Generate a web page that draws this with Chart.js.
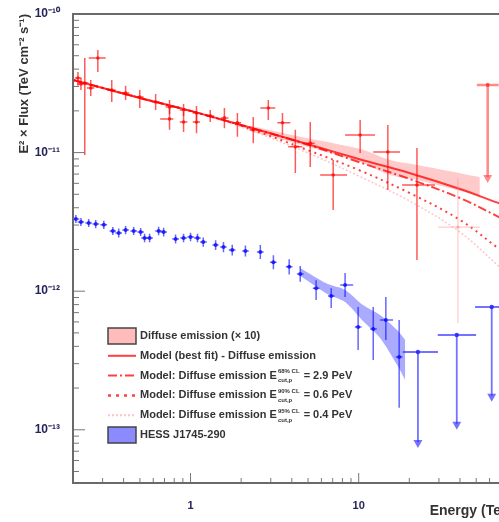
<!DOCTYPE html>
<html>
<head>
<meta charset="utf-8">
<script src="https://cdn.jsdelivr.net/npm/chart.js@4/dist/chart.umd.min.js"></script>
<style>
html, body { margin: 0; padding: 0; background: #fff; overflow: hidden; }
#wrap { width: 520px; height: 522px; }
</style>
</head>
<body>
<div id="wrap"><canvas id="spectrum" width="520" height="522"></canvas></div>
<script>
// Axis ticks
const xTickValues = [1, 10];
const xTickLabels = ["1", "10"];
const yTickValues = [1e-13, 1e-12, 1e-11, 1e-10];
const yTickLabels = ["10\u207B\u00B9\u00B3", "10\u207B\u00B9\u00B2", "10\u207B\u00B9\u00B9", "10\u207B\u00B9\u2070"];

// Diffuse emission (x 10) points, TeV / TeV cm^-2 s^-1
const redE   = [0.214, 0.223, 0.235, 0.255, 0.281, 0.340, 0.411, 0.499, 0.620, 0.750, 0.750, 0.909, 0.909, 1.085, 1.085, 1.31, 1.59, 1.90, 2.36, 2.90, 3.52, 4.20, 5.15, 7.05, 10.2, 14.9, 22.2];
const redF   = [3.45e-11, 3.13e-11, 3.18e-11, 2.92e-11, 4.82e-11, 2.83e-11, 2.69e-11, 2.52e-11, 2.32e-11, 2.13e-11, 1.75e-11, 2.03e-11, 1.66e-11, 1.93e-11, 1.66e-11, 1.84e-11, 1.78e-11, 1.64e-11, 1.46e-11, 2.10e-11, 1.64e-11, 1.10e-11, 1.17e-11, 6.89e-12, 1.34e-11, 1.01e-11, 5.83e-12];
const redFHi = [3.82e-11, 3.45e-11, 4.82e-11, 3.34e-11, 5.49e-11, 3.34e-11, 3.03e-11, 2.83e-11, 2.65e-11, 2.40e-11, 2.10e-11, 2.24e-11, 1.96e-11, 2.17e-11, 1.96e-11, 2.03e-11, 2.10e-11, 1.93e-11, 1.81e-11, 2.40e-11, 1.93e-11, 1.46e-11, 1.66e-11, 8.85e-12, 1.72e-11, 1.58e-11, 1.08e-11];
const redFLo = [3.03e-11, 2.83e-11, 9.6e-12, 2.56e-11, 3.82e-11, 2.32e-11, 2.40e-11, 2.10e-11, 2.03e-11, 1.90e-11, 1.46e-11, 1.84e-11, 1.41e-11, 1.72e-11, 1.38e-11, 1.66e-11, 1.50e-11, 1.30e-11, 1.17e-11, 1.72e-11, 1.34e-11, 7.13e-12, 7.87e-12, 3.86e-12, 9.93e-12, 5.37e-12, 1.68e-12];
const redELo = [0.205, 0.212, 0.224, 0.242, 0.248, 0.322, 0.390, 0.473, 0.588, 0.711, 0.660, 0.862, 0.862, 1.03, 1.03, 1.24, 1.51, 1.80, 2.24, 2.60, 3.28, 3.81, 4.85, 5.90, 8.30, 12.2, 18.1];
const redEHi = [0.224, 0.235, 0.247, 0.268, 0.313, 0.358, 0.433, 0.526, 0.654, 0.791, 0.790, 0.959, 0.959, 1.14, 1.14, 1.38, 1.68, 2.00, 2.49, 3.19, 3.92, 4.62, 5.47, 8.53, 12.5, 17.6, 28.4];

// faint diffuse point and diffuse upper limit
const redPaleE = [38.9], redPaleF = [2.90e-12], redPaleFHi = [6.56e-12], redPaleFLo = [5.90e-13], redPaleELo = [29.6], redPaleEHi = [52.5];
const redUlE = [58.5], redUlF = [3.08e-11], redUlEnd = [6.04e-12], redUlELo = [50.4], redUlEHi = [68];

// HESS J1745-290 points
const blueE   = [0.208, 0.223, 0.248, 0.273, 0.305, 0.345, 0.374, 0.411, 0.459, 0.505, 0.533, 0.571, 0.646, 0.692, 0.815, 0.909, 1.0, 1.10, 1.19, 1.41, 1.57, 1.77, 2.12, 2.60, 3.11, 3.86, 4.49, 5.58, 6.86, 8.30, 9.92, 12.2, 14.5, 17.4];
const blueF   = [3.32e-12, 3.16e-12, 3.10e-12, 3.05e-12, 3.01e-12, 2.72e-12, 2.63e-12, 2.76e-12, 2.72e-12, 2.67e-12, 2.42e-12, 2.42e-12, 2.72e-12, 2.67e-12, 2.38e-12, 2.42e-12, 2.46e-12, 2.42e-12, 2.26e-12, 2.15e-12, 2.08e-12, 1.98e-12, 1.95e-12, 1.92e-12, 1.62e-12, 1.50e-12, 1.33e-12, 1.05e-12, 9.23e-13, 1.11e-12, 5.52e-13, 5.34e-13, 6.19e-13, 3.35e-13];
const blueFHi = [3.55e-12, 3.38e-12, 3.32e-12, 3.26e-12, 3.22e-12, 2.91e-12, 2.83e-12, 2.95e-12, 2.91e-12, 2.86e-12, 2.60e-12, 2.60e-12, 2.92e-12, 2.87e-12, 2.56e-12, 2.60e-12, 2.64e-12, 2.60e-12, 2.44e-12, 2.33e-12, 2.26e-12, 2.16e-12, 2.14e-12, 2.15e-12, 1.82e-12, 1.70e-12, 1.52e-12, 1.20e-12, 1.05e-12, 1.35e-12, 7.69e-13, 7.69e-13, 9.08e-13, 6.19e-13];
const blueFLo = [3.10e-12, 2.95e-12, 2.90e-12, 2.85e-12, 2.81e-12, 2.54e-12, 2.44e-12, 2.58e-12, 2.54e-12, 2.50e-12, 2.25e-12, 2.25e-12, 2.53e-12, 2.48e-12, 2.21e-12, 2.25e-12, 2.29e-12, 2.25e-12, 2.09e-12, 1.98e-12, 1.91e-12, 1.81e-12, 1.78e-12, 1.71e-12, 1.44e-12, 1.32e-12, 1.17e-12, 8.65e-13, 7.57e-13, 9.08e-13, 3.77e-13, 3.19e-13, 4.45e-13, 1.44e-13];
const blueELo = [0.199, 0.213, 0.237, 0.261, 0.291, 0.330, 0.357, 0.393, 0.439, 0.483, 0.509, 0.546, 0.617, 0.661, 0.779, 0.869, 0.956, 1.05, 1.14, 1.35, 1.50, 1.69, 2.03, 2.48, 2.97, 3.69, 4.29, 5.33, 6.56, 7.76, 9.48, 11.7, 13.4, 16.6];
const blueEHi = [0.218, 0.233, 0.259, 0.286, 0.319, 0.361, 0.391, 0.430, 0.480, 0.528, 0.558, 0.597, 0.676, 0.724, 0.853, 0.951, 1.05, 1.15, 1.25, 1.47, 1.64, 1.85, 2.22, 2.72, 3.25, 4.04, 4.70, 5.84, 7.18, 9.27, 10.4, 12.8, 16.0, 18.2];

// HESS J1745-290 upper limits
const blueUlE   = [22.5, 38.3, 61.8];
const blueUlF   = [3.64e-13, 4.83e-13, 7.69e-13];
const blueUlEnd = [7.4e-14, 1.0e-13, 1.59e-13];
const blueUlELo = [18.3, 29.5, 49.2];
const blueUlEHi = [29.6, 49.9, 78.9];

// shaded fit bands
const redBandE  = [2.27, 4.49, 10.2, 15.3, 22.3, 52.5];
const redBandHi = [1.56e-11, 1.30e-11, 1.06e-11, 8.85e-12, 8.15e-12, 6.67e-12];
const redBandLo = [1.43e-11, 1.14e-11, 8.55e-12, 6.89e-12, 6.34e-12, 4.86e-12];
const blueBandE  = [4.49, 6.5, 8.3, 10.6, 13.4, 16.9, 18.9];
const blueBandHi = [1.47e-12, 1.13e-12, 1.02e-12, 7.94e-13, 6.73e-13, 5.25e-13, 4.45e-13];
const blueBandLo = [1.29e-12, 9.54e-13, 8.36e-13, 6.09e-13, 4.59e-13, 2.94e-13, 2.29e-13];

// model curves
const modelE    = [0.2, 0.5, 1, 2, 5, 10, 20, 40, 70, 100];
const modelBest = [3.34e-11, 2.48e-11, 2.00e-11, 1.58e-11, 1.15e-11, 8.99e-12, 7.13e-12, 5.46e-12, 4.26e-12, 3.67e-12];
const model68   = [3.34e-11, 2.48e-11, 2.00e-11, 1.58e-11, 1.14e-11, 8.55e-12, 6.46e-12, 4.70e-12, 3.37e-12, 2.67e-12];
const model90   = [3.34e-11, 2.48e-11, 2.00e-11, 1.56e-11, 1.04e-11, 7.49e-12, 5.12e-12, 3.27e-12, 1.98e-12, 1.47e-12];
const model95   = [3.34e-11, 2.48e-11, 2.00e-11, 1.53e-11, 9.93e-12, 6.78e-12, 4.48e-12, 2.67e-12, 1.47e-12, 1.02e-12];

const RED = "rgba(255,0,0,0.75)";
const BLUE = "rgba(0,0,255,0.75)";
const FONT = "'Liberation Sans', Arial, sans-serif";

function pts(xs, ys) {
    return xs.map((x, i) => ({ x: x, y: ys[i] }));
}

// Legend entries drawn inside the frame
const legendItems = [
    { kind: "box", fill: "rgba(255,160,160,0.7)", parts: [{ t: "Diffuse emission (\u00D7 10)" }] },
    { kind: "line", color: RED, dash: [], width: 2, parts: [{ t: "Model (best fit) - Diffuse emission" }] },
    { kind: "line", color: RED, dash: [9, 3, 2, 3], width: 2, parts: [{ t: "Model: Diffuse emission E" }, { sub: "cut,p", sup: "68% CL" }, { t: " = 2.9 PeV" }] },
    { kind: "line", color: RED, dash: [3, 5], width: 2.5, parts: [{ t: "Model: Diffuse emission E" }, { sub: "cut,p", sup: "90% CL" }, { t: " = 0.6 PeV" }] },
    { kind: "line", color: "rgba(255,170,170,0.7)", dash: [2, 2], width: 2, parts: [{ t: "Model: Diffuse emission E" }, { sub: "cut,p", sup: "95% CL" }, { t: " = 0.4 PeV" }] },
    { kind: "box", fill: "rgba(110,110,255,0.8)", parts: [{ t: "HESS J1745-290" }] }
];

// frame, inside ticks and legend
const decorPlugin = {
    id: "decor",
    afterDraw(chart) {
        const { ctx, chartArea: a, scales: { x, y } } = chart;
        ctx.save();
        // inside ticks
        ctx.strokeStyle = "#777";
        ctx.lineWidth = 1;
        const minorTicks = (scale, draw) => {
            const lo = Math.floor(Math.log10(scale.min)), hi = Math.ceil(Math.log10(scale.max));
            for (let d = lo; d <= hi; d++) {
                for (let m = 1; m <= 9; m++) {
                    const v = m * Math.pow(10, d);
                    if (v < scale.min || v > scale.max) continue;
                    draw(scale.getPixelForValue(v), m === 1);
                }
            }
        };
        ctx.beginPath();
        minorTicks(y, (p, major) => { ctx.moveTo(a.left, p); ctx.lineTo(a.left + (major ? 12 : 6), p); });
        minorTicks(x, (p, major) => { ctx.moveTo(p, a.bottom); ctx.lineTo(p, a.bottom - (major ? 10 : 5)); });
        ctx.stroke();
        // frame
        ctx.strokeStyle = "#6a6a6a";
        ctx.lineWidth = 2;
        ctx.strokeRect(a.left, a.top, a.right - a.left, a.bottom - a.top);

        // legend
        const lx = a.left + 35, sw = 28, rowH = 19.8;
        let ly = a.top + 322;
        ctx.textBaseline = "middle";
        legendItems.forEach(item => {
            if (item.kind === "box") {
                ctx.fillStyle = item.fill;
                ctx.fillRect(lx, ly - 8, sw, 16);
                ctx.strokeStyle = "#444";
                ctx.lineWidth = 1.5;
                ctx.strokeRect(lx, ly - 8, sw, 16);
            } else {
                ctx.strokeStyle = item.color;
                ctx.lineWidth = item.width;
                ctx.setLineDash(item.dash);
                ctx.beginPath();
                ctx.moveTo(lx, ly);
                ctx.lineTo(lx + sw, ly);
                ctx.stroke();
                ctx.setLineDash([]);
            }
            let tx = lx + sw + 4;
            ctx.fillStyle = "#333";
            item.parts.forEach(p => {
                if (p.t) {
                    ctx.font = "bold 11px " + FONT;
                    ctx.fillText(p.t, tx, ly);
                    tx += ctx.measureText(p.t).width;
                } else {
                    ctx.font = "bold 6px " + FONT;
                    ctx.fillText(p.sup, tx + 1, ly - 4);
                    ctx.fillText(p.sub, tx + 1, ly + 5);
                    tx += Math.max(ctx.measureText(p.sup).width, ctx.measureText(p.sub).width) + 2;
                }
            });
            ly += rowH;
        });
        ctx.restore();
    }
};

// error bars and upper-limit arrows, placed through the scales
const errorBarPlugin = {
    id: "errorBars",
    afterDatasetsDraw(chart) {
        const { ctx, chartArea: a, scales: { x, y } } = chart;
        ctx.save();
        ctx.beginPath();
        ctx.rect(a.left, a.top, a.right - a.left, a.bottom - a.top);
        ctx.clip();
        chart.data.datasets.forEach(ds => {
            if (!ds.err) return;
            const e = ds.err;
            ctx.strokeStyle = ds.errColor;
            ctx.fillStyle = ds.errColor;
            ctx.lineWidth = ds.errWidth;
            ds.data.forEach((p, i) => {
                const px = x.getPixelForValue(p.x), py = y.getPixelForValue(p.y);
                const yEnd = y.getPixelForValue(e.yLo[i]);
                ctx.beginPath();
                ctx.moveTo(x.getPixelForValue(e.xLo[i]), py);
                ctx.lineTo(x.getPixelForValue(e.xHi[i]), py);
                ctx.moveTo(px, y.getPixelForValue(e.yHi[i]));
                ctx.lineTo(px, ds.upperLimit ? yEnd - 6 : yEnd);
                ctx.stroke();
                if (ds.upperLimit) {
                    ctx.beginPath();
                    ctx.moveTo(px - 4.5, yEnd - 8);
                    ctx.lineTo(px + 4.5, yEnd - 8);
                    ctx.lineTo(px, yEnd);
                    ctx.closePath();
                    ctx.fill();
                }
            });
        });
        ctx.restore();
    }
};

const bandStyle = { type: "line", pointRadius: 0, borderWidth: 0, borderColor: "transparent", tension: 0.3 };
const modelStyle = { type: "line", pointRadius: 0, tension: 0.35, fill: false };

new Chart(document.getElementById("spectrum"), {
    type: "scatter",
    data: {
        datasets: [
            { ...bandStyle, order: 20, data: pts(redBandE, redBandHi), fill: false },
            { ...bandStyle, order: 19, data: pts(redBandE, redBandLo), fill: "-1", backgroundColor: "rgba(255,150,150,0.5)" },
            { ...bandStyle, order: 18, data: pts(blueBandE, blueBandHi), fill: false },
            { ...bandStyle, order: 17, data: pts(blueBandE, blueBandLo), fill: "-1", backgroundColor: "rgba(100,100,255,0.55)" },
            { ...modelStyle, order: 12, data: pts(modelE, model95), borderColor: "rgba(255,160,160,0.6)", borderWidth: 1.5, borderDash: [2, 2] },
            { ...modelStyle, order: 11, data: pts(modelE, model90), borderColor: RED, borderWidth: 2, borderDash: [2, 4] },
            { ...modelStyle, order: 10, data: pts(modelE, model68), borderColor: RED, borderWidth: 2, borderDash: [9, 3, 2, 3] },
            { ...modelStyle, order: 9, data: pts(modelE, modelBest), borderColor: RED, borderWidth: 2 },
            {
                order: 5, data: pts(redE, redF), pointRadius: 1.8, backgroundColor: RED, borderWidth: 0,
                err: { xLo: redELo, xHi: redEHi, yLo: redFLo, yHi: redFHi }, errColor: "rgba(255,0,0,0.65)", errWidth: 1.5
            },
            {
                order: 5, data: pts(redPaleE, redPaleF), pointRadius: 1.5, backgroundColor: "rgba(255,120,120,0.6)", borderWidth: 0,
                err: { xLo: redPaleELo, xHi: redPaleEHi, yLo: redPaleFLo, yHi: redPaleFHi }, errColor: "rgba(255,140,140,0.45)", errWidth: 1.2
            },
            {
                order: 5, data: pts(redUlE, redUlF), pointRadius: 2, backgroundColor: RED, borderWidth: 0, upperLimit: true,
                err: { xLo: redUlELo, xHi: redUlEHi, yLo: redUlEnd, yHi: redUlF }, errColor: "rgba(255,60,60,0.6)", errWidth: 2.5
            },
            {
                order: 4, data: pts(blueE, blueF), pointRadius: 2, backgroundColor: BLUE, borderWidth: 0,
                err: { xLo: blueELo, xHi: blueEHi, yLo: blueFLo, yHi: blueFHi }, errColor: "rgba(0,0,255,0.6)", errWidth: 1.5
            },
            {
                order: 4, data: pts(blueUlE, blueUlF), pointRadius: 2.2, backgroundColor: BLUE, borderWidth: 0, upperLimit: true,
                err: { xLo: blueUlELo, xHi: blueUlEHi, yLo: blueUlEnd, yHi: blueUlF }, errColor: "rgba(40,40,255,0.65)", errWidth: 1.8
            }
        ]
    },
    options: {
        responsive: false,
        animation: false,
        devicePixelRatio: 1,
        layout: { padding: { top: 14, right: 5, left: 0, bottom: 0 } },
        plugins: { legend: { display: false }, tooltip: { enabled: false } },
        scales: {
            x: {
                type: "logarithmic",
                position: "bottom",
                min: 0.2,
                max: 85,
                grid: { display: false },
                border: { display: false },
                afterBuildTicks: s => { s.ticks = xTickValues.map(v => ({ value: v })); },
                afterFit: s => { s.height = 39; },
                ticks: {
                    autoSkip: false,
                    maxRotation: 0,
                    padding: 8,
                    color: "#25255a",
                    font: { family: FONT, size: 11, weight: "bold" },
                    callback: v => xTickLabels[xTickValues.indexOf(v)]
                },
                title: {
                    display: true,
                    text: "Energy (TeV)",
                    align: "end",
                    color: "#333",
                    padding: { top: 0, bottom: 2 },
                    font: { family: FONT, size: 14, weight: "bold" }
                }
            },
            y: {
                type: "logarithmic",
                min: 4.13e-14,
                max: 1e-10,
                grid: { display: false },
                border: { display: false },
                afterBuildTicks: s => { s.ticks = yTickValues.map(v => ({ value: v })); },
                afterFit: s => { s.width = 73; },
                ticks: {
                    autoSkip: false,
                    padding: 5,
                    color: "#25255a",
                    font: { family: FONT, size: 12, weight: "bold" },
                    callback: v => yTickLabels[yTickValues.indexOf(v)]
                },
                title: {
                    display: true,
                    text: "E\u00B2 \u00D7 Flux (TeV cm\u207B\u00B2 s\u207B\u00B9)",
                    align: "end",
                    color: "#333",
                    padding: { top: 17, bottom: 0 },
                    font: { family: FONT, size: 13, weight: "bold" }
                }
            }
        }
    },
    plugins: [errorBarPlugin, decorPlugin]
});
</script>
</body>
</html>
